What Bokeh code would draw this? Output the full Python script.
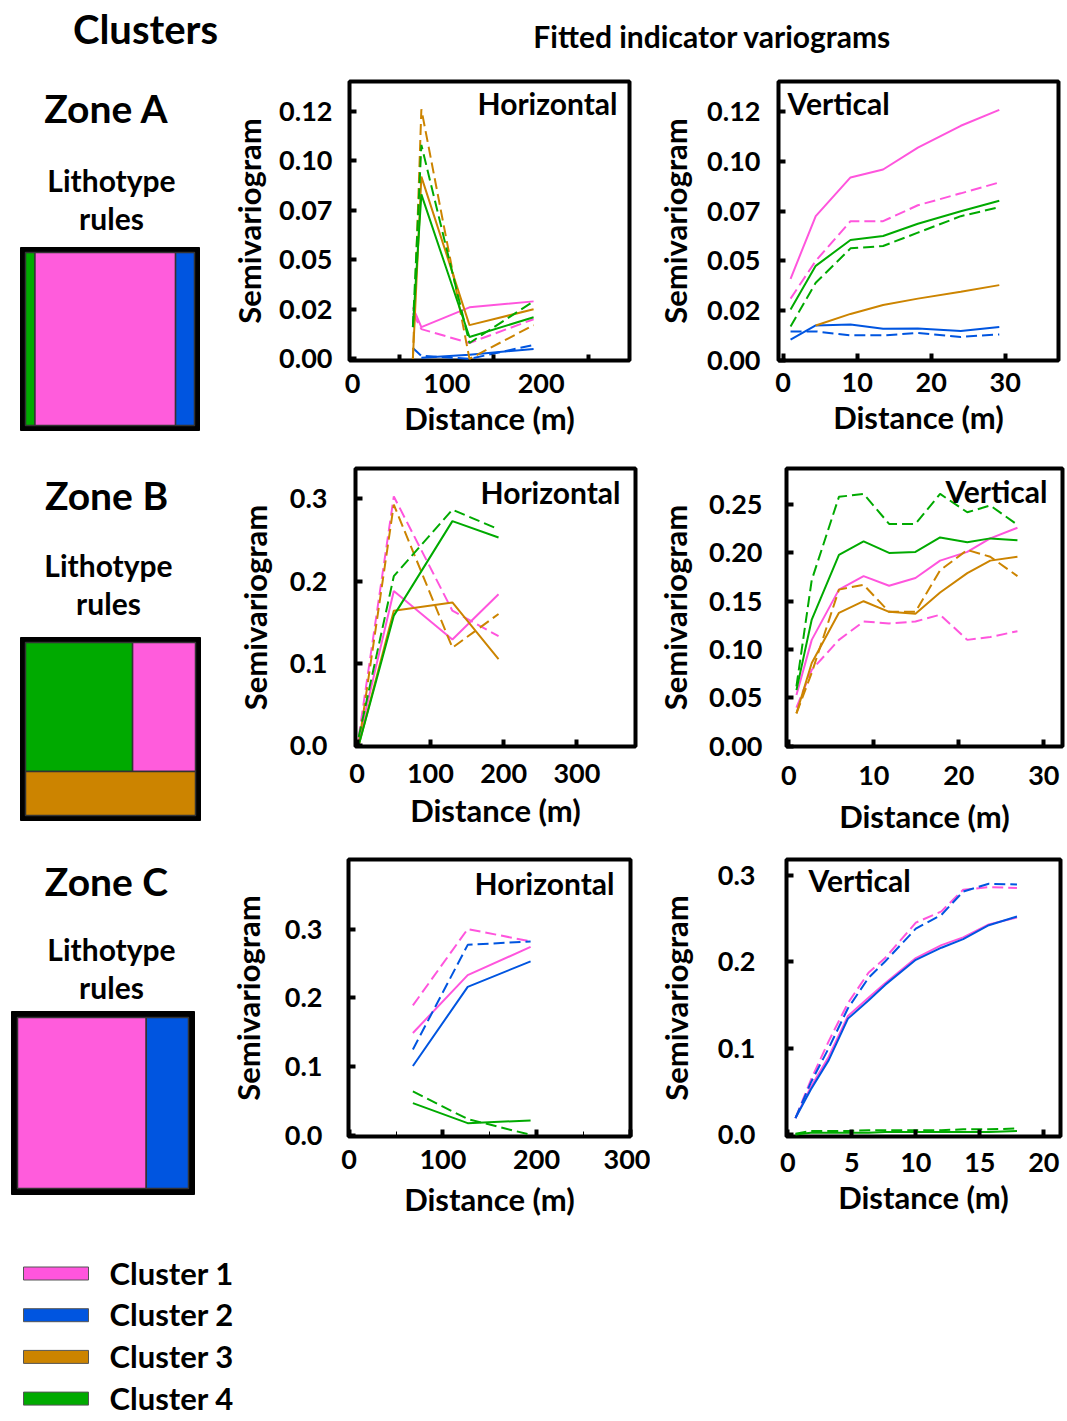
from bokeh.plotting import figure
from bokeh.layouts import row, column
from bokeh.models import Range1d, FixedTicker, CustomJSTickFormatter
from bokeh.core.properties import value
from bokeh.embed import file_html
from bokeh.resources import INLINE

FONT = "Lato"
PINK = "#ff55dd"
BLUE = "#0055e0"
ORANGE = "#cc8400"
GREEN = "#00aa00"
COLORS = [PINK, BLUE, ORANGE, GREEN]
CLUSTERS = ["Cluster 1", "Cluster 2", "Cluster 3", "Cluster 4"]

# ---------------- data ----------------
# Zone A - horizontal
AH_X = [64, 73, 124, 192]
AH_C1_SOLID = [0.026, 0.016, 0.026, 0.029]
AH_C1_DASH = [0.023, 0.015, 0.008, 0.020]
AH_C2_SOLID = [None, 0.0005, 0.002, 0.005]
AH_C2_DASH = [0.0055, 0.0015, 0.0, 0.007]
AH_C3_SOLID = [0.0, 0.092, 0.017, 0.025]
AH_C3_DASH = [0.0, 0.126, 0.0, 0.017]
AH_C4_SOLID = [0.016, 0.083, 0.011, 0.021]
AH_C4_DASH = [0.016, 0.108, 0.008, 0.029]
# Zone A - vertical
AV_X = [1.0, 4.4, 9.1, 13.5, 18.2, 24.0, 29.2]
AV_C1_SOLID = [0.041, 0.0725, 0.092, 0.096, 0.107, 0.118, 0.126]
AV_C1_DASH = [0.031, 0.050, 0.070, 0.070, 0.078, 0.084, 0.0895]
AV_C2_SOLID = [0.0103, 0.0175, 0.018, 0.0158, 0.016, 0.0147, 0.0167]
AV_C2_DASH = [0.0145, 0.0145, 0.0125, 0.0125, 0.0137, 0.0117, 0.013]
AV_C3_SOLID = [None, 0.0175, 0.0233, 0.0278, 0.031, 0.0345, 0.0378]
AV_C4_SOLID = [0.0255, 0.0475, 0.0605, 0.0625, 0.0687, 0.075, 0.0803]
AV_C4_DASH = [0.017, 0.039, 0.0563, 0.0575, 0.0642, 0.0725, 0.077]
# Zone B - horizontal
BH_X = [2, 50, 130, 193]
BH_C1_SOLID = [0.006, 0.188, 0.129, 0.184]
BH_C1_DASH = [0.010, 0.303, 0.164, 0.133]
BH_C3_SOLID = [0.0, 0.164, 0.174, 0.105]
BH_C3_DASH = [0.0, 0.293, 0.119, 0.160]
BH_C4_SOLID = [0.0, 0.158, 0.273, 0.253]
BH_C4_DASH = [0.010, 0.206, 0.287, 0.263]
# Zone B - vertical
BV_X = [0.9, 2.7, 5.9, 8.8, 11.8, 14.9, 17.8, 21.0, 23.7, 26.9]
BV_C1_SOLID = [0.053, 0.110, 0.162, 0.176, 0.166, 0.174, 0.192, 0.201, 0.215, 0.226]
BV_C1_DASH = [0.040, 0.079, 0.110, 0.129, 0.127, 0.129, 0.136, 0.110, 0.113, 0.119]
BV_C3_SOLID = [0.034, 0.086, 0.138, 0.150, 0.139, 0.137, 0.159, 0.179, 0.192, 0.196]
BV_C3_DASH = [0.034, 0.076, 0.162, 0.167, 0.139, 0.139, 0.182, 0.203, 0.196, 0.176]
BV_C4_SOLID = [0.058, 0.131, 0.198, 0.212, 0.200, 0.201, 0.216, 0.211, 0.215, 0.213]
BV_C4_DASH = [0.062, 0.172, 0.258, 0.261, 0.230, 0.230, 0.261, 0.242, 0.249, 0.229]
# Zone C - horizontal
CH_X = [68, 126.5, 193.6]
CH_C1_SOLID = [0.149, 0.233, 0.274]
CH_C1_DASH = [0.189, 0.300, 0.282]
CH_C2_SOLID = [0.101, 0.216, 0.253]
CH_C2_DASH = [0.125, 0.277, 0.282]
CH_C4_SOLID = [0.047, 0.018, 0.022]
CH_C4_DASH = [0.064, 0.024, 0.001]
# Zone C - vertical
CV_X = [0.6, 1.8, 3.2, 4.7, 6.3, 7.6, 10.0, 12.0, 13.7, 15.7, 17.9]
CV_C1_SOLID = [0.019, 0.055, 0.090, 0.137, 0.158, 0.175, 0.204, 0.219, 0.228, 0.243, 0.251]
CV_C1_DASH = [0.019, 0.063, 0.108, 0.152, 0.187, 0.204, 0.245, 0.258, 0.283, 0.286, 0.285]
CV_C2_SOLID = [0.019, 0.052, 0.086, 0.134, 0.155, 0.173, 0.202, 0.216, 0.226, 0.242, 0.252]
CV_C2_DASH = [0.019, 0.060, 0.100, 0.146, 0.181, 0.200, 0.238, 0.254, 0.281, 0.290, 0.289]
CV_C4_SOLID = [0.0, 0.002, 0.002, 0.002, 0.002, 0.003, 0.003, 0.003, 0.003, 0.003, 0.004]
CV_C4_DASH = [0.001, 0.004, 0.004, 0.004, 0.005, 0.005, 0.005, 0.005, 0.006, 0.006, 0.007]

# tick values / labels
A_YTICKS = [0, 0.025, 0.05, 0.075, 0.1, 0.125]
A_YLABELS = ["0.00", "0.02", "0.05", "0.07", "0.10", "0.12"]
H_XTICKS = [0, 100, 200, 300]
H_XLABELS = ["0", "100", "200", "300"]
V30_XTICKS = [0, 10, 20, 30]
V30_XLABELS = ["0", "10", "20", "30"]
V20_XTICKS = [0, 5, 10, 15, 20]
V20_XLABELS = ["0", "5", "10", "15", "20"]
B_YTICKS = [0, 0.1, 0.2, 0.3]
B_YLABELS = ["0.0", "0.1", "0.2", "0.3"]
BV_YTICKS = [0, 0.05, 0.1, 0.15, 0.2, 0.25]
BV_YLABELS = ["0.00", "0.05", "0.10", "0.15", "0.20", "0.25"]
C_YTICKS = [0, 0.1, 0.2, 0.3]
C_YLABELS = ["0.0", "0.1", "0.2", "0.3"]
MINOR_H = [50, 150, 250]

# lithotype rule proportions
ZONE_A_WIDTHS = [0.056, 0.832, 0.112]      # cluster 4, 1, 2
ZONE_A_COLORS = [GREEN, "#ff5cdc", BLUE]
ZONE_B_TOP_WIDTHS = [0.63, 0.37]           # cluster 4, 1
ZONE_B_TOP_COLORS = [GREEN, "#ff5cdc"]
ZONE_B_TOP_HEIGHT = 0.745                  # bottom: cluster 3
ZONE_C_WIDTHS = [0.753, 0.247]             # cluster 1, 2
ZONE_C_COLORS = ["#ff5cdc", BLUE]

LEFT_W = 222      # width of the left (zone / lithotype) column
TOP_H = 1230      # height of the header + panel area


def labeller(tick_values, tick_labels):
    return CustomJSTickFormatter(args=dict(tv=tick_values, lv=tick_labels), code="""
        for (let i = 0; i < tv.length; i++) {
            if (Math.abs(tv[i] - tick) < 1e-9) return lv[i];
        }
        return '';
    """)


def make_panel(cfg):
    fx0, fy0, w, h = cfg["fig"]
    fl, ft, fr, fb = cfg["frame"]
    xr, yr = cfg["xr"], cfg["yr"]
    p = figure(width=w, height=h, x_range=Range1d(*xr), y_range=Range1d(*yr),
               min_border_left=fl - fx0, min_border_right=fx0 + w - fr,
               min_border_top=ft - fy0, min_border_bottom=fy0 + h - fb,
               output_backend="svg", toolbar_location=None, title=None)
    p.grid.visible = False
    p.outline_line_color = "black"
    p.outline_line_width = 4
    p.background_fill_color = "white"
    p.border_fill_color = "white"
    for ax in (p.xaxis[0], p.yaxis[0]):
        ax.axis_line_color = None
        ax.major_tick_in = 7
        ax.major_tick_out = 0
        ax.major_tick_line_width = 4
        ax.minor_tick_in = 0
        ax.minor_tick_out = 0
        ax.major_label_text_font = FONT
        ax.major_label_text_font_style = "bold"
        ax.major_label_text_font_size = "27px"
        ax.major_label_text_color = "black"
        ax.axis_label_text_font = FONT
        ax.axis_label_text_font_style = "bold"
        ax.axis_label_text_font_size = "31px"
        ax.axis_label_text_color = "black"
    xa, ya = p.xaxis[0], p.yaxis[0]
    xa.ticker = FixedTicker(ticks=cfg["xticks"], minor_ticks=cfg.get("xminor", []))
    xa.formatter = labeller(cfg["xticks"], cfg["xlabels"])
    if cfg.get("xminor"):
        xa.minor_tick_in = cfg.get("minor_in", 6)
        xa.minor_tick_line_width = cfg.get("minor_w", 4)
    if cfg.get("xmajor_in") is not None:
        xa.major_tick_in = cfg["xmajor_in"]
    ya.ticker = FixedTicker(ticks=cfg["yticks"])
    ya.formatter = labeller(cfg["yticks"], cfg["ylabels"])
    xa.axis_label = "Distance (m)"
    ya.axis_label = "Semivariogram"
    ya.major_label_standoff = cfg["ystand"]
    ya.axis_label_standoff = cfg["ylabstand"]
    xa.major_label_standoff = cfg["xstand"]
    xa.axis_label_standoff = cfg["xlabstand"]

    for xs, ys, color, dash in cfg["series"]:
        pts = [(a, b) for a, b in zip(xs, ys) if b is not None]
        p.line([a for a, _ in pts], [b for _, b in pts], line_color=color,
               line_width=2, line_dash=("11 5" if dash else "solid"))

    # panel tag, given in page pixels -> converted to data coordinates
    tx, ty = cfg["tag_pos"]
    dx = xr[0] + (tx - fl) / (fr - fl) * (xr[1] - xr[0])
    dy = yr[1] - (ty - ft) / (fb - ft) * (yr[1] - yr[0])
    p.text(x=[dx], y=[dy], text=[cfg["tag"]], text_font=value(FONT),
           text_font_style="bold", text_font_size="30px", text_color="black",
           text_align=cfg["tag_align"], text_baseline="middle")
    return p


S, D = False, True
HW = 650 - LEFT_W
panels = {}
panels["AH"] = make_panel(dict(
    fig=(LEFT_W, 70, HW, 380), frame=(349, 78, 629, 360),
    xr=(-3.2, 293.7), yr=(-0.00085, 0.140),
    xticks=H_XTICKS[:3], xlabels=H_XLABELS[:3], xminor=MINOR_H, xmajor_in=0,
    yticks=A_YTICKS, ylabels=A_YLABELS,
    ystand=17, ylabstand=8, xstand=13, xlabstand=3,
    tag="Horizontal", tag_pos=(617, 100), tag_align="right",
    series=[(AH_X, AH_C1_SOLID, PINK, S), (AH_X, AH_C1_DASH, PINK, D),
            (AH_X, AH_C2_SOLID, BLUE, S), (AH_X, AH_C2_DASH, BLUE, D),
            (AH_X, AH_C3_SOLID, ORANGE, S), (AH_X, AH_C3_DASH, ORANGE, D),
            (AH_X, AH_C4_SOLID, GREEN, S), (AH_X, AH_C4_DASH, GREEN, D)]))
panels["AV"] = make_panel(dict(
    fig=(650, 70, 417, 380), frame=(778, 81, 1058, 362),
    xr=(-0.63, 37.2), yr=(-0.00015, 0.1403),
    xticks=V30_XTICKS, xlabels=V30_XLABELS,
    yticks=A_YTICKS, ylabels=A_YLABELS,
    ystand=18, ylabstand=10, xstand=12, xlabstand=3,
    tag="Vertical", tag_pos=(787, 103), tag_align="left",
    series=[(AV_X, AV_C1_SOLID, PINK, S), (AV_X, AV_C1_DASH, PINK, D),
            (AV_X, AV_C2_SOLID, BLUE, S), (AV_X, AV_C2_DASH, BLUE, D),
            (AV_X, AV_C3_SOLID, ORANGE, S),
            (AV_X, AV_C4_SOLID, GREEN, S), (AV_X, AV_C4_DASH, GREEN, D)]))
panels["BH"] = make_panel(dict(
    fig=(LEFT_W, 450, HW, 390), frame=(355, 467, 635, 746),
    xr=(-2.3, 380), yr=(-0.0012, 0.337),
    xticks=H_XTICKS, xlabels=H_XLABELS,
    yticks=B_YTICKS, ylabels=B_YLABELS,
    ystand=28, ylabstand=13, xstand=17, xlabstand=5,
    tag="Horizontal", tag_pos=(620, 491), tag_align="right",
    series=[(BH_X, BH_C1_SOLID, PINK, S), (BH_X, BH_C1_DASH, PINK, D),
            (BH_X, BH_C3_SOLID, ORANGE, S), (BH_X, BH_C3_DASH, ORANGE, D),
            (BH_X, BH_C4_SOLID, GREEN, S), (BH_X, BH_C4_DASH, GREEN, D)]))
panels["BV"] = make_panel(dict(
    fig=(650, 450, 417, 390), frame=(786, 468, 1062, 747),
    xr=(-0.27, 32.2), yr=(-0.0003, 0.2873),
    xticks=V30_XTICKS, xlabels=V30_XLABELS,
    yticks=BV_YTICKS, ylabels=BV_YLABELS,
    ystand=24, ylabstand=12, xstand=19, xlabstand=9,
    tag="Vertical", tag_pos=(1047, 491), tag_align="right",
    series=[(BV_X, BV_C1_SOLID, PINK, S), (BV_X, BV_C1_DASH, PINK, D),
            (BV_X, BV_C3_SOLID, ORANGE, S), (BV_X, BV_C3_DASH, ORANGE, D),
            (BV_X, BV_C4_SOLID, GREEN, S), (BV_X, BV_C4_DASH, GREEN, D)]))
panels["CH"] = make_panel(dict(
    fig=(LEFT_W, 840, HW, 390), frame=(348, 857, 630, 1136),
    xr=(-0.7, 300.2), yr=(-0.0014, 0.401),
    xticks=H_XTICKS, xlabels=H_XLABELS, xminor=MINOR_H, minor_in=5, minor_w=1,
    yticks=C_YTICKS, ylabels=C_YLABELS,
    ystand=26, ylabstand=15, xstand=13, xlabstand=8,
    tag="Horizontal", tag_pos=(614, 881), tag_align="right",
    series=[(CH_X, CH_C1_SOLID, PINK, S), (CH_X, CH_C1_DASH, PINK, D),
            (CH_X, CH_C2_SOLID, BLUE, S), (CH_X, CH_C2_DASH, BLUE, D),
            (CH_X, CH_C4_SOLID, GREEN, S), (CH_X, CH_C4_DASH, GREEN, D)]))
panels["CV"] = make_panel(dict(
    fig=(650, 840, 417, 390), frame=(786, 859, 1060, 1137),
    xr=(-0.1, 21.3), yr=(-0.0023, 0.318),
    xticks=V20_XTICKS, xlabels=V20_XLABELS,
    yticks=C_YTICKS, ylabels=C_YLABELS,
    ystand=31, ylabstand=20, xstand=16, xlabstand=3,
    tag="Vertical", tag_pos=(808, 880), tag_align="left",
    series=[(CV_X, CV_C1_SOLID, PINK, S), (CV_X, CV_C1_DASH, PINK, D),
            (CV_X, CV_C2_SOLID, BLUE, S), (CV_X, CV_C2_DASH, BLUE, D),
            (CV_X, CV_C4_SOLID, GREEN, S), (CV_X, CV_C4_DASH, GREEN, D)]))


def canvas(x0, y0, w, h):
    c = figure(width=w, height=h, x_range=Range1d(x0, x0 + w), y_range=Range1d(y0 + h, y0),
               min_border=0, min_border_left=0, min_border_right=0, min_border_top=0,
               min_border_bottom=0, output_backend="svg", toolbar_location=None, title=None,
               x_axis_type=None, y_axis_type=None)
    c.grid.visible = False
    c.outline_line_color = None
    return c


def txt(c, x, y, s, size, align="center"):
    c.text(x=[x], y=[y], text=[s], text_font=value(FONT), text_font_style="bold",
           text_font_size=size, text_color="black", text_align=align, text_baseline="middle")


# left column canvas (page x 0..LEFT_W, y 0..TOP_H)
left = canvas(0, 0, LEFT_W, TOP_H)
txt(left, 145, 28, "Clusters", "40px")
for zone, zy, ly, lx in (("Zone A", 107, 179, 111), ("Zone B", 494, 564, 108), ("Zone C", 880, 948, 111)):
    txt(left, 106, zy, zone, "39px")
    txt(left, lx, ly, "Lithotype", "30px")
    txt(left, lx, ly + 38, "rules", "30px")


def box(c, x0, y0, x1, y1, inset, cells):
    c.quad(left=[x0], right=[x1], top=[y0], bottom=[y1], fill_color="black", line_color="black")
    ix0, iy0, ix1, iy1 = x0 + inset, y0 + inset, x1 - inset, y1 - inset
    for fl, fr, ft, fb, col in cells:
        c.quad(left=[ix0 + fl * (ix1 - ix0)], right=[ix0 + fr * (ix1 - ix0)],
               top=[iy0 + ft * (iy1 - iy0)], bottom=[iy0 + fb * (iy1 - iy0)],
               fill_color=col, line_color="#333333", line_width=1.5)


def split_h(widths, colors, t=0.0, b=1.0):
    cells, acc = [], 0.0
    for wdt, col in zip(widths, colors):
        cells.append((acc, acc + wdt, t, b, col))
        acc += wdt
    return cells


box(left, 20, 247, 199, 430, 5, split_h(ZONE_A_WIDTHS, ZONE_A_COLORS))
box(left, 20, 637, 200, 820, 5,
    split_h(ZONE_B_TOP_WIDTHS, ZONE_B_TOP_COLORS, 0.0, ZONE_B_TOP_HEIGHT)
    + [(0.0, 1.0, ZONE_B_TOP_HEIGHT, 1.0, ORANGE)])
box(left, 11, 1011, 194, 1194, 6, split_h(ZONE_C_WIDTHS, ZONE_C_COLORS))

# legend (page x 0..1067, y TOP_H..1421)
legend = canvas(0, TOP_H, 1067, 1421 - TOP_H)
for i, (name, col) in enumerate(zip(CLUSTERS, COLORS)):
    yc = 1273 + i * 41.7
    legend.quad(left=[23], right=[88], top=[yc - 6.5], bottom=[yc + 6.5], fill_color=col,
                line_color="#555555", line_width=1)
    txt(legend, 109, yc - 1, name, "31px", align="left")

# header over the variogram panels (page x LEFT_W..1067, y 0..70)
header = canvas(LEFT_W, 0, 1067 - LEFT_W, 70)
txt(header, 712, 35, "Fitted indicator variograms", "30px")

layout = column(
    row(left, column(header,
                     row(panels["AH"], panels["AV"]),
                     row(panels["BH"], panels["BV"]),
                     row(panels["CH"], panels["CV"]))),
    legend)

open("out.html", "w").write(file_html(layout, INLINE))
